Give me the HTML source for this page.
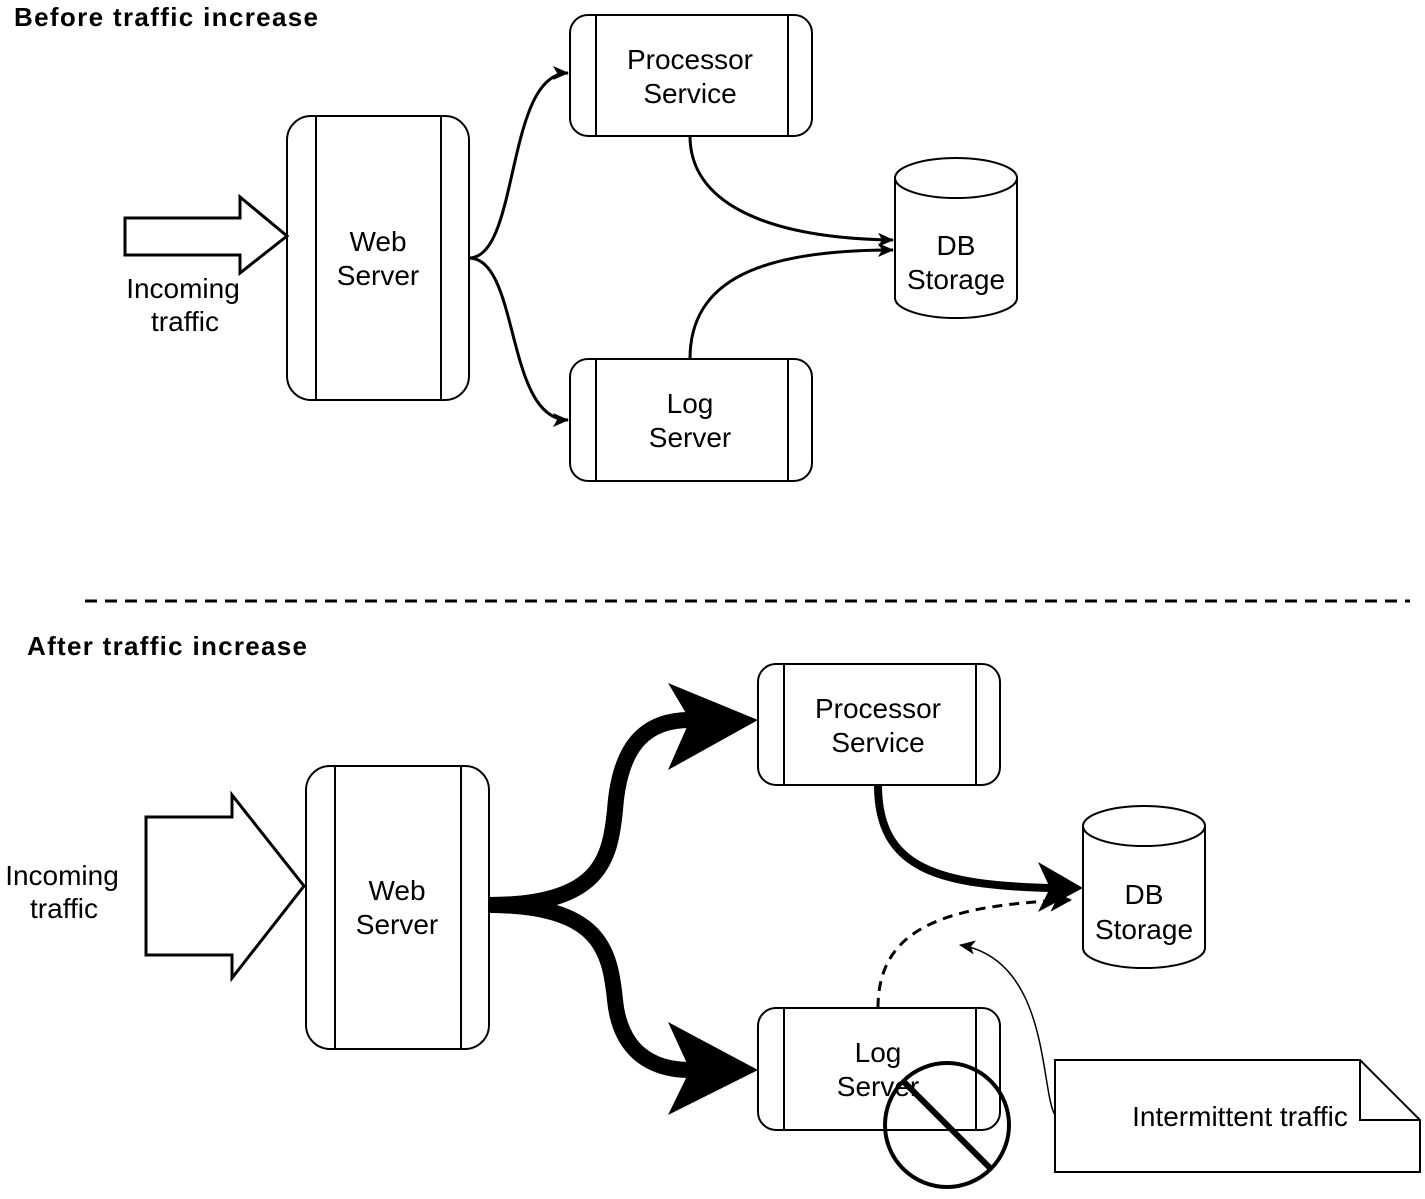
<!DOCTYPE html>
<html><head><meta charset="utf-8"><style>
html,body{margin:0;padding:0;background:#fff;}
svg text{font-family:"Liberation Sans",sans-serif;}
</style></head><body>
<svg width="1425" height="1194" viewBox="0 0 1425 1194" xmlns="http://www.w3.org/2000/svg">
<defs>
<marker id="a1" markerWidth="16" markerHeight="16" refX="15" refY="8" orient="auto" markerUnits="userSpaceOnUse" viewBox="0 0 16 16">
<path d="M0,1 L16,8 L0,15 L4,8 Z" fill="#000"/></marker>
<marker id="a2" markerWidth="22" markerHeight="22" refX="20" refY="11" orient="auto" markerUnits="userSpaceOnUse" viewBox="0 0 22 22">
<path d="M0,0 L22,11 L0,22 L6,11 Z" fill="#000"/></marker>
</defs>
<g fill="none" stroke="#000" stroke-width="2">
<text x="14" y="26" font-size="26" font-weight="bold" fill="#000" stroke="none" textLength="304">Before traffic increase</text>
<rect x="287" y="116" width="182" height="284" rx="24"/>
<line x1="316" y1="116" x2="316" y2="400"/><line x1="441" y1="116" x2="441" y2="400"/>
<rect x="570" y="15" width="242" height="121" rx="18"/>
<line x1="596" y1="15" x2="596" y2="136"/><line x1="788" y1="15" x2="788" y2="136"/>
<rect x="570" y="359" width="242" height="122" rx="18"/>
<line x1="596" y1="359" x2="596" y2="481"/><line x1="788" y1="359" x2="788" y2="481"/>
<path d="M895,178 A61,20 0 0 1 1017,178 L1017,298 A61,20 0 0 1 895,298 Z"/>
<path d="M895,178 A61,20 0 0 0 1017,178"/>
<path d="M125,218 L240,218 L240,197 L287,236 L240,273 L240,255 L125,255 Z" stroke-width="3"/>
<g stroke-width="3">
<path d="M469,258 C520,258 505,73 568,73" marker-end="url(#a1)"/>
<path d="M469,258 C520,258 505,420 568,420" marker-end="url(#a1)"/>
<path d="M690,136 C690,200 760,238 893,240" marker-end="url(#a1)"/>
<path d="M690,359 C690,280 760,250 893,250" marker-end="url(#a1)"/>
</g>
<g fill="#000" stroke="none" font-size="28" text-anchor="middle">
<text x="378" y="251">Web</text><text x="378" y="285">Server</text>
<text x="690" y="69">Processor</text><text x="690" y="103">Service</text>
<text x="690" y="413">Log</text><text x="690" y="447">Server</text>
<text x="956" y="255">DB</text><text x="956" y="289">Storage</text>
<text x="183" y="298">Incoming</text><text x="185" y="331">traffic</text>
</g>
<line x1="85" y1="601" x2="1410" y2="601" stroke-width="3" stroke-dasharray="12,8"/>
<text x="27" y="655" font-size="26" font-weight="bold" fill="#000" stroke="none" textLength="280">After traffic increase</text>
<rect x="306" y="766" width="183" height="283" rx="24"/>
<line x1="335" y1="766" x2="335" y2="1049"/><line x1="461" y1="766" x2="461" y2="1049"/>
<rect x="758" y="664" width="242" height="121" rx="18"/>
<line x1="784" y1="664" x2="784" y2="785"/><line x1="976" y1="664" x2="976" y2="785"/>
<rect x="758" y="1008" width="242" height="122" rx="18"/>
<line x1="784" y1="1008" x2="784" y2="1130"/><line x1="976" y1="1008" x2="976" y2="1130"/>
<path d="M1083,826 A61,20 0 0 1 1205,826 L1205,948 A61,20 0 0 1 1083,948 Z"/>
<path d="M1083,826 A61,20 0 0 0 1205,826"/>
<path d="M146,817 L232,817 L232,795 L304,886 L232,978 L232,955 L146,955 Z" stroke-width="3"/>
<path d="M489,905 C600,905 610,860 615,810 C620,740 650,720 690,720" stroke-width="16"/>
<path d="M668,683 L758,720 L668,770 L690,720 Z" fill="#000" stroke="none"/>
<path d="M489,905 C600,905 610,950 615,1000 C620,1050 650,1070 690,1070" stroke-width="16"/>
<path d="M668,1022 L758,1070 L668,1115 L690,1070 Z" fill="#000" stroke="none"/>
<path d="M878,785 C878,870 940,885 1050,888" stroke-width="8"/>
<path d="M1038,862 L1083,888 L1038,912 L1050,888 Z" fill="#000" stroke="none"/>
<path d="M878,1008 C878,930 940,905 1070,900" stroke-width="3" stroke-dasharray="10,7" marker-end="url(#a2)"/>
<path d="M1055,1115 C1040,1090 1050,960 960,945" stroke-width="1.5" marker-end="url(#a1)"/>
<path d="M1055,1060 L1360,1060 L1420,1120 L1420,1172 L1055,1172 Z"/>
<path d="M1360,1060 L1360,1120 L1420,1120"/>
<g fill="#000" stroke="none" font-size="28" text-anchor="middle">
<text x="397" y="900">Web</text><text x="397" y="934">Server</text>
<text x="878" y="718">Processor</text><text x="878" y="752">Service</text>
<text x="878" y="1062">Log</text><text x="878" y="1096">Server</text>
<text x="1144" y="904">DB</text><text x="1144" y="939">Storage</text>
<text x="62" y="885">Incoming</text><text x="64" y="918">traffic</text>
<text x="1240" y="1126">Intermittent traffic</text>
</g>
<circle cx="947" cy="1125" r="62" stroke-width="4"/>
<line x1="903" y1="1081" x2="991" y2="1169" stroke-width="6"/>
</g>
</svg>
</body></html>
